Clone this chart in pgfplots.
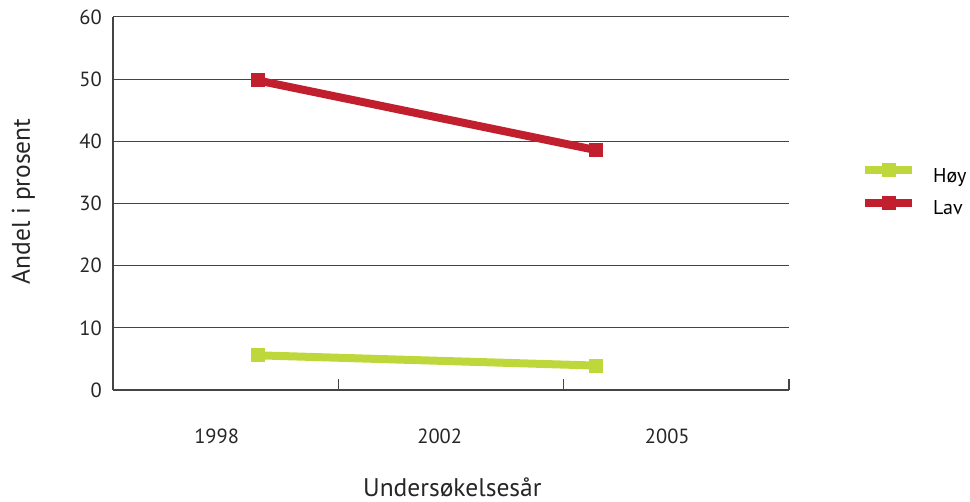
\documentclass[border=0pt]{standalone}
\usepackage{fontspec}
\setmainfont{PT Sans}
\usepackage{pgfplots}
\pgfplotsset{compat=1.18}
\definecolor{hoy}{HTML}{BED73B}
\definecolor{lav}{HTML}{C11F2E}
\definecolor{axisgray}{HTML}{444444}

\begin{document}
\begin{tikzpicture}[x=1pt,y=1pt]
\path[use as bounding box] (-113,-112) rectangle (857,390);
\begin{axis}[
  at={(0,0)}, anchor=south west,
  scale only axis, width=676pt, height=373pt,
  xmin=0, xmax=3, ymin=0, ymax=60,
  clip=false,
  axis lines=left,
  axis line style={-, draw=axisgray, line width=1.4pt},
  tick align=inside,
  ytick={0,10,...,60},
  ymajorgrids,
  grid style={axisgray, line width=1pt},
  y tick style={draw=none},
  xtick={0.46,1.45,2.46},
  xticklabels={1998,2002,2005},
  major x tick style={draw=none},
  minor xtick={1,2,3},
  minor x tick style={axisgray, line width=1.2pt},
  minor tick length=11pt,
  /pgf/number format/assume math mode=true,
  ticklabel style={font=\fontsize{20.5}{24}\selectfont, text=black!85},
  yticklabel style={inner sep=0pt, anchor=east, xshift=-11pt},
  xticklabel style={inner sep=0pt, anchor=base, yshift=-53.3pt},
  xlabel={Undersøkelsesår},
  ylabel={Andel i prosent},
  label style={font=\fontsize{25.5}{30}\selectfont, text=black!85, inner sep=0pt},
  xlabel style={at={(axis description cs:0.502,-0.286)}, anchor=base},
  ylabel style={at={(axis description cs:-0.1228,0.5054)}, anchor=base, rotate=0},
  legend style={
    at={(axis description cs:1.1065,0.533)}, anchor=west,
    draw=none, fill=none, inner sep=0pt, row sep=10pt,
    nodes={inner sep=0pt, text height=14pt, text depth=4pt},
    font=\fontsize{20}{24}\selectfont,
    /tikz/every odd column/.append style={column sep=17pt},
  },
  legend cell align=left,
  legend image code/.code={
    \draw[mark repeat=2, mark phase=2, #1]
      plot coordinates {(0pt,7pt) (23.5pt,7pt) (47pt,7pt)};
  },
  every axis plot/.append style={line width=8pt, mark=square*, mark size=6.5pt,
    mark options={solid, line width=0pt, draw=none}},
]
% Share of respondents per survey year
\addplot[color=hoy] coordinates {(0.642,5.58) (2.142,3.93)};
\addlegendentry{Høy}
\addplot[color=lav] coordinates {(0.642,49.8) (2.142,38.6)};
\addlegendentry{Lav}
\end{axis}
\end{tikzpicture}
\end{document}
